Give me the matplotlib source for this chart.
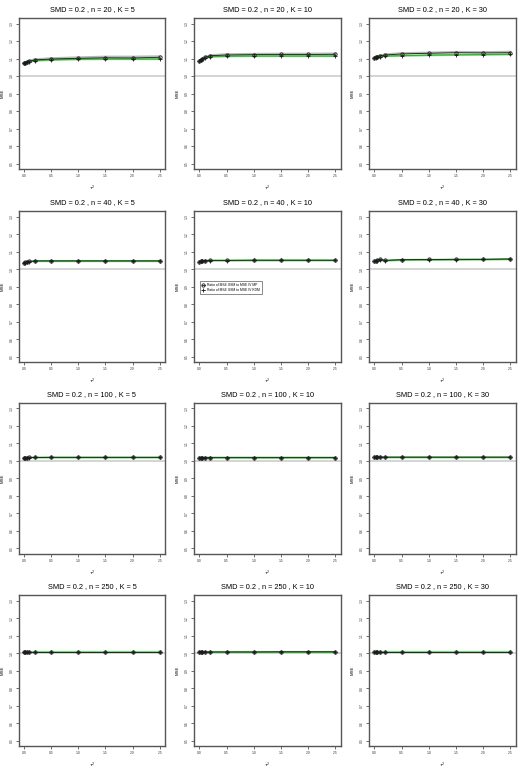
import numpy as np
import matplotlib
matplotlib.use("Agg")
import matplotlib.pyplot as plt

plt.rcParams['font.family'] = ['Liberation Sans', 'DejaVu Sans']

# tau^2 grid used in the simulation
tau2 = [0, 0.025, 0.05, 0.1, 0.2, 0.5, 1.0, 1.5, 2.0, 2.5]
n_values = [20, 40, 100, 250]
k_values = [5, 10, 30]

# ratio of MSE SSM to MSE IV MP (black)
mp = {
    (20, 5):   [1.073, 1.076, 1.080, 1.085, 1.092, 1.097, 1.101, 1.104, 1.103, 1.107],
    (20, 10):  [1.086, 1.092, 1.098, 1.106, 1.116, 1.120, 1.122, 1.123, 1.123, 1.124],
    (20, 30):  [1.103, 1.107, 1.111, 1.115, 1.120, 1.126, 1.130, 1.133, 1.132, 1.133],
    (40, 5):   [1.036, 1.039, 1.042, 1.045, 1.048, 1.048, 1.048, 1.048, 1.048, 1.048],
    (40, 10):  [1.044, 1.046, 1.048, 1.050, 1.051, 1.051, 1.052, 1.052, 1.052, 1.052],
    (40, 30):  [1.046, 1.049, 1.052, 1.057, 1.051, 1.055, 1.056, 1.057, 1.057, 1.059],
    (100, 5):  [1.017, 1.018, 1.019, 1.020, 1.020, 1.021, 1.021, 1.021, 1.021, 1.021],
    (100, 10): [1.018, 1.019, 1.019, 1.019, 1.019, 1.019, 1.019, 1.019, 1.019, 1.019],
    (100, 30): [1.020, 1.021, 1.022, 1.022, 1.022, 1.022, 1.022, 1.022, 1.022, 1.022],
    (250, 5):  [1.008, 1.008, 1.008, 1.008, 1.008, 1.008, 1.008, 1.008, 1.008, 1.008],
    (250, 10): [1.008, 1.008, 1.008, 1.008, 1.008, 1.008, 1.008, 1.009, 1.009, 1.009],
    (250, 30): [1.008, 1.008, 1.008, 1.008, 1.008, 1.008, 1.008, 1.008, 1.008, 1.008],
}

# ratio of MSE SSM to MSE IV KDM (green)
kdm = {
    (20, 5):   [1.073, 1.075, 1.078, 1.082, 1.088, 1.092, 1.096, 1.097, 1.097, 1.097],
    (20, 10):  [1.085, 1.090, 1.095, 1.102, 1.110, 1.113, 1.114, 1.114, 1.114, 1.114],
    (20, 30):  [1.102, 1.105, 1.108, 1.111, 1.114, 1.116, 1.119, 1.121, 1.122, 1.124],
    (40, 5):   [1.036, 1.038, 1.041, 1.044, 1.047, 1.047, 1.047, 1.047, 1.047, 1.047],
    (40, 10):  [1.044, 1.045, 1.047, 1.049, 1.050, 1.050, 1.051, 1.051, 1.051, 1.051],
    (40, 30):  [1.045, 1.048, 1.050, 1.053, 1.050, 1.053, 1.054, 1.055, 1.056, 1.058],
    (100, 5):  [1.017, 1.018, 1.019, 1.019, 1.020, 1.020, 1.020, 1.020, 1.020, 1.020],
    (100, 10): [1.018, 1.018, 1.019, 1.019, 1.019, 1.019, 1.019, 1.019, 1.019, 1.019],
    (100, 30): [1.020, 1.021, 1.021, 1.021, 1.021, 1.021, 1.021, 1.021, 1.021, 1.021],
    (250, 5):  [1.007, 1.007, 1.007, 1.007, 1.007, 1.007, 1.007, 1.007, 1.007, 1.007],
    (250, 10): [1.008, 1.008, 1.008, 1.008, 1.008, 1.008, 1.008, 1.008, 1.008, 1.008],
    (250, 30): [1.007, 1.007, 1.007, 1.007, 1.007, 1.007, 1.007, 1.007, 1.007, 1.007],
}

# faint grey companion curve (only visible for n = 20)
grey = {
    (20, 5):  [1.074, 1.077, 1.081, 1.087, 1.095, 1.101, 1.106, 1.110, 1.110, 1.112],
    (20, 10): [1.087, 1.093, 1.100, 1.108, 1.118, 1.124, 1.126, 1.127, 1.127, 1.128],
    (20, 30): [1.104, 1.108, 1.112, 1.117, 1.123, 1.130, 1.133, 1.137, 1.136, 1.138],
}

y_ticks = [0.5, 0.6, 0.7, 0.8, 0.9, 1.0, 1.1, 1.2, 1.3]
x_ticks = [0.0, 0.5, 1.0, 1.5, 2.0, 2.5]

W, H = 525, 770
fig = plt.figure(figsize=(W / 100, H / 100), dpi=100)

col_left = [18.6, 194.0, 369.0]
ax_w = 146.6
row_top = [17.9, 211.2, 402.9, 595.2]
ax_h = 151.2

for i, n in enumerate(n_values):
    for j, k in enumerate(k_values):
        ax = fig.add_axes([col_left[j] / W, 1 - (row_top[i] + ax_h) / H,
                           ax_w / W, ax_h / H])
        ax.axhline(1.0, color='#d4d4d4', lw=1.4, zorder=1)
        if (n, k) in grey:
            ax.plot(tau2, grey[(n, k)], color='#b8b8b8', lw=1.6, zorder=2)
        ax.plot(tau2, kdm[(n, k)], color='#7ed47e', lw=1.6, zorder=2)
        ax.plot(tau2, kdm[(n, k)], color='#22aa22', lw=0.6, marker='+',
                ms=3, mew=0.6, mec='#1a1a1a', zorder=3,
                label='Ratio of MSE SSM to MSE IV KDM')
        ax.plot(tau2, mp[(n, k)], color='#1a1a1a', lw=0.6, marker='o',
                ms=2.4, mfc='none', mew=0.6, zorder=4,
                label='Ratio of MSE SSM to MSE IV MP')

        ax.set_xlim(-0.1, 2.6)
        ax.set_ylim(0.468, 1.332)
        ax.set_xticks(x_ticks)
        ax.set_xticklabels([f'{v:.1f}' for v in x_ticks])
        ax.set_yticks(y_ticks)
        ax.set_yticklabels([f'{v:.1f}' for v in y_ticks], rotation=90, va='center')
        ax.tick_params(labelsize=2.4, length=2, width=0.5, pad=1.5,
                       colors='#333333')
        for s in ax.spines.values():
            s.set_color('#555555')
            s.set_linewidth(1.0)
        ax.set_title(f'SMD = 0.2 , n = {n} , K = {k}', fontsize=5.3, pad=5)
        ax.set_xlabel(r'$\tau^2$', fontsize=3.2, labelpad=4)
        ax.set_ylabel('MSE', fontsize=3.2)
        ax.yaxis.set_label_coords(-0.095, 0.5)

        if i == 1 and j == 1:
            h, l = ax.get_legend_handles_labels()
            leg = ax.legend(h[::-1], l[::-1], loc='upper left',
                            bbox_to_anchor=(0.03, 0.55), fontsize=2.4,
                            frameon=True, fancybox=False, edgecolor='#555555',
                            handlelength=0.8, borderpad=0.6, labelspacing=0.3)
            leg.get_frame().set_linewidth(0.6)

fig.savefig('out.png', dpi=100)
